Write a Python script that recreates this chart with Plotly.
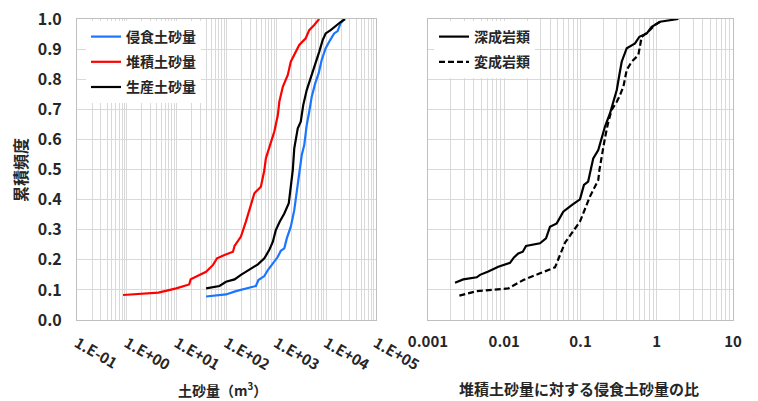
import plotly.graph_objects as go

# ---- data ----
erosion_x = [38.9, 97.7, 155, 245, 389, 437, 575, 676, 851, 1072, 1230, 1445, 1622, 1950, 2291, 2570,
             2884, 3236, 3631, 4074, 4571, 5129, 6026, 7079, 8128, 9772, 12023, 14454, 16982, 19498, 22909]
erosion_y = [0.078, 0.085, 0.096, 0.105, 0.113, 0.133, 0.146, 0.166, 0.188, 0.21, 0.23, 0.238, 0.271, 0.31,
             0.365, 0.432, 0.498, 0.548, 0.581, 0.648, 0.692, 0.742, 0.786, 0.82, 0.864, 0.903, 0.93, 0.952,
             0.96, 0.986, 1.0]

deposit_x = [0.84, 4.3, 9.8, 17.8, 19.1, 38.9, 53.7, 64.6, 91.2, 135, 145, 195, 245, 309, 363, 490, 575,
             617, 776, 912, 1072, 1148, 1349, 1698, 1950, 2455, 2884, 3890, 4571, 5754, 7244]
deposit_y = [0.083, 0.091, 0.105, 0.118, 0.135, 0.16, 0.183, 0.205, 0.216, 0.227, 0.246, 0.277, 0.327,
             0.388, 0.421, 0.443, 0.498, 0.537, 0.587, 0.626, 0.681, 0.725, 0.775, 0.814, 0.858, 0.891,
             0.914, 0.936, 0.963, 0.98, 1.0]

product_x = [38.9, 72.4, 97.7, 145, 195, 288, 427, 575, 724, 851, 977, 1175, 1445, 1778, 1950, 2138, 2291,
             2692, 3090, 3467, 4074, 4898, 6026, 7244, 8511, 9772, 12303, 15488, 19498, 23988]
product_y = [0.105, 0.113, 0.127, 0.135, 0.15, 0.166, 0.185, 0.205, 0.233, 0.26, 0.299, 0.327, 0.354,
             0.388, 0.443, 0.498, 0.57, 0.637, 0.659, 0.714, 0.764, 0.803, 0.847, 0.891, 0.93, 0.952,
             0.963, 0.978, 0.99, 1.0]

plutonic_x = [0.00226, 0.0029, 0.00436, 0.00481, 0.00618, 0.00836, 0.0119, 0.0134, 0.0153, 0.0175, 0.0193,
              0.0229, 0.0294, 0.0353, 0.0398, 0.0488, 0.0594, 0.0767, 0.0984, 0.111, 0.126, 0.136, 0.147,
              0.171, 0.19, 0.209, 0.244, 0.27, 0.299, 0.323, 0.347, 0.404, 0.519, 0.592, 0.74, 0.859,
              1.104, 1.919]
plutonic_y = [0.124, 0.135, 0.142, 0.15, 0.161, 0.177, 0.19, 0.208, 0.221, 0.227, 0.246, 0.249, 0.255,
              0.271, 0.31, 0.321, 0.36, 0.382, 0.401, 0.449, 0.46, 0.498, 0.537, 0.565, 0.604, 0.642,
              0.687, 0.725, 0.764, 0.814, 0.858, 0.903, 0.919, 0.941, 0.952, 0.974, 0.991, 1.0]

metamorphic_x = [0.00258, 0.00436, 0.0113, 0.0178, 0.0294, 0.0463, 0.0627, 0.0847, 0.0984, 0.133, 0.171,
                 0.177, 0.19, 0.209, 0.232, 0.256, 0.299, 0.323, 0.365, 0.404, 0.469, 0.573, 0.635, 0.776,
                 0.948, 1.104]
metamorphic_y = [0.081, 0.096, 0.105, 0.133, 0.155, 0.175, 0.257, 0.305, 0.327, 0.41, 0.465, 0.498, 0.548,
                 0.604, 0.659, 0.698, 0.725, 0.742, 0.775, 0.831, 0.858, 0.88, 0.941, 0.958, 0.98, 0.991]

left_tickvals = [0.1, 1, 10, 100, 1000, 10000, 100000]
left_ticktext = ["1.E-01", "1.E+00", "1.E+01", "1.E+02", "1.E+03", "1.E+04", "1.E+05"]
right_tickvals = [0.001, 0.01, 0.1, 1, 10]
right_ticktext = ["0.001", "0.01", "0.1", "1", "10"]

FONT = "Noto Sans CJK JP"
GRID = "#d9d9d9"
BORDER = "#bfbfbf"
TXT = "#262626"

W, H = 758, 401


def px(x):
    return x / W


def py(y):
    return 1 - y / H


fig = go.Figure()
fig.add_trace(go.Scatter(x=erosion_x, y=erosion_y, mode="lines", name="侵食土砂量",
                         line=dict(color="#1a75ff", width=2.2), xaxis="x", yaxis="y",
                         legend="legend", legendgroup="a"))
fig.add_trace(go.Scatter(x=deposit_x, y=deposit_y, mode="lines", name="堆積土砂量",
                         line=dict(color="#ff0000", width=2.2), xaxis="x", yaxis="y",
                         legend="legend", legendgroup="b"))
fig.add_trace(go.Scatter(x=product_x, y=product_y, mode="lines", name="生産土砂量",
                         line=dict(color="#000000", width=2.2), xaxis="x", yaxis="y",
                         legend="legend", legendgroup="c"))
fig.add_trace(go.Scatter(x=plutonic_x, y=plutonic_y, mode="lines", name="深成岩類",
                         line=dict(color="#000000", width=2.2), xaxis="x2", yaxis="y2",
                         legend="legend2", legendgroup="d"))
fig.add_trace(go.Scatter(x=metamorphic_x, y=metamorphic_y, mode="lines", name="変成岩類",
                         line=dict(color="#000000", width=2.2, dash="6px,3px"), xaxis="x2", yaxis="y2",
                         legend="legend2", legendgroup="e"))

common_x = dict(type="log", showgrid=True, gridcolor=GRID, gridwidth=1, showline=True, mirror=True,
                linecolor=BORDER, linewidth=1, ticks="", zeroline=False, automargin=False,
                ticklabelstandoff=8, ticklabeloverflow="allow",
                minor=dict(dtick="D1", showgrid=True, gridcolor=GRID, gridwidth=1, ticks=""))
common_y = dict(range=[0, 1], dtick=0.1, showgrid=True, gridcolor=GRID, gridwidth=1, showline=True,
                mirror=True, linecolor=BORDER, linewidth=1, ticks="", zeroline=False, automargin=False,
                ticklabeloverflow="allow")

fig.update_layout(
    width=W, height=H,
    margin=dict(l=0, r=0, t=0, b=0, autoexpand=False),
    paper_bgcolor="white", plot_bgcolor="white",
    font=dict(family=FONT, size=14, color=TXT, weight="bold"),
    xaxis=dict(domain=[px(77), px(376)], range=[-1, 5], tickvals=left_tickvals, ticktext=left_ticktext,
               tickangle=30, tickfont=dict(size=15, family=FONT, color=TXT, weight="bold"), anchor="y",
               **common_x),
    yaxis=dict(domain=[py(320), py(19)], anchor="x", tickformat=".1f", ticklabelstandoff=11,
               tickfont=dict(size=16, family=FONT, color=TXT, weight="bold"), **common_y),
    xaxis2=dict(domain=[px(428), px(733)], range=[-3, 1], tickvals=right_tickvals, ticktext=right_ticktext,
                tickangle=0, tickfont=dict(size=15, family=FONT, color=TXT, weight="bold"), anchor="y2",
                **common_x),
    yaxis2=dict(domain=[py(320), py(19)], anchor="x2", showticklabels=False, **common_y),
    legend=dict(x=px(86), y=py(21), xanchor="left", yanchor="top", bgcolor="white",
                borderwidth=0, font=dict(size=14, family=FONT, color=TXT, weight="bold"),
                traceorder="grouped", tracegroupgap=4, itemwidth=30),
    legend2=dict(x=px(434), y=py(21), xanchor="left", yanchor="top", bgcolor="white",
                 borderwidth=0, font=dict(size=14, family=FONT, color=TXT, weight="bold"),
                 traceorder="grouped", tracegroupgap=4, itemwidth=30),
    showlegend=True,
)

fig.add_annotation(text="累積頻度", x=px(20), y=py(170), xref="paper", yref="paper",
                   xanchor="center", yanchor="middle", textangle=-90, showarrow=False,
                   font=dict(size=16, family=FONT, color=TXT, weight="bold"))
fig.add_annotation(text="土砂量（m<sup>3</sup>）", x=px(222), y=py(389), xref="paper", yref="paper",
                   xanchor="center", yanchor="middle", showarrow=False,
                   font=dict(size=14, family=FONT, color=TXT, weight="bold"))
fig.add_annotation(text="堆積土砂量に対する侵食土砂量の比", x=px(579), y=py(388), xref="paper",
                   yref="paper", xanchor="center", yanchor="middle", showarrow=False,
                   font=dict(size=15, family=FONT, color=TXT, weight="bold"))

# remove the browser's default 8px page margin so the figure fills the window exactly
fig.write_html("out.html", config={"displayModeBar": False},
               post_script="document.body.style.margin='0px';")
